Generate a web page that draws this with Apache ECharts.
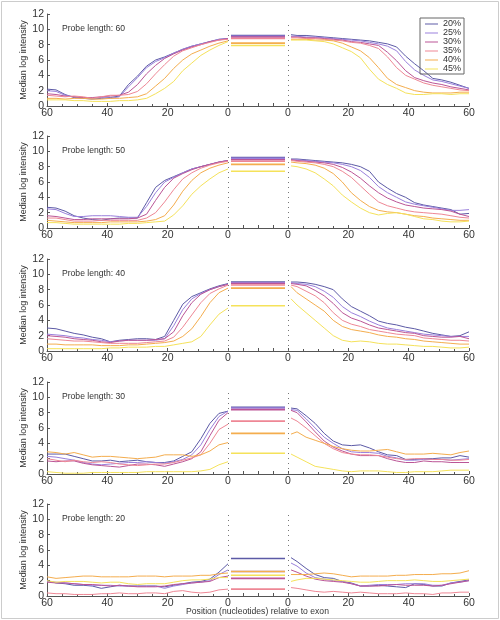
<!DOCTYPE html>
<html>
<head>
<meta charset="utf-8">
<script src="https://cdn.jsdelivr.net/npm/echarts@6/dist/echarts.min.js"></script>
<style>
  html, body { margin: 0; background: #fff; }
  #main { width: 500px; height: 620px; }
</style>
</head>
<body>
<div id="main"></div>
<script>
// GC content groups (one line each)
const pct = ['20%', '25%', '30%', '35%', '40%', '45%'];
const colors = ['#5c5aa6', '#9a80dc', '#bb5596', '#ee8795', '#f4ad4e', '#f5e25a'];
const probeLengths = [60, 50, 40, 30, 20];

// positions (nucleotides) relative to exon
const posLeft = [60, 57, 54, 51, 48, 45, 42, 39, 36, 33, 30, 27, 24, 21, 18, 15, 12, 9, 6, 3, 0];
const posRight = [1, 3, 6, 9, 12, 15, 18, 21, 24, 27, 30, 33, 36, 39, 42, 45, 48, 51, 54, 57, 60];
const exonSpan = [1, 19];
const xTicks = [0, 20, 40, 60];

// probe length 60
const left60 = [
  [2.2,2.1,1.5,1.1,1.0,0.9,1.0,1.1,1.3,2.8,3.9,5.2,6.0,6.4,6.9,7.4,7.8,8.1,8.4,8.7,8.8],
  [2.0,1.9,1.4,1.2,1.0,1.0,1.1,1.0,1.2,2.5,3.7,5.0,5.8,6.3,6.9,7.4,7.8,8.1,8.4,8.7,8.8],
  [1.6,1.5,1.3,1.2,1.1,1.1,1.2,1.3,1.4,1.8,2.8,4.2,5.3,6.2,6.8,7.3,7.7,8.0,8.4,8.6,8.8],
  [1.4,1.3,1.2,1.3,1.2,1.0,1.2,1.4,1.4,1.5,1.9,2.9,4.2,5.4,6.5,7.2,7.6,8.0,8.3,8.6,8.7],
  [1.0,1.0,0.9,1.0,1.0,0.9,0.9,1.0,1.0,1.1,1.2,1.6,2.6,3.6,4.9,6.0,6.8,7.3,7.8,8.2,8.5],
  [0.8,0.8,0.8,0.7,0.7,0.6,0.6,0.6,0.7,0.7,0.8,1.0,1.6,2.3,3.2,4.6,5.6,6.6,7.3,7.9,8.4]
];
const exon60 = [9.2, 9.1, 9.0, 8.8, 8.2, 7.9];
const right60 = [
  [9.3,9.2,9.2,9.1,9.0,8.9,8.8,8.7,8.6,8.5,8.3,8.1,7.7,6.5,5.5,4.6,3.6,3.4,3.1,2.7,2.3],
  [9.1,9.1,9.0,9.0,8.9,8.8,8.7,8.6,8.5,8.3,8.1,7.8,7.2,5.8,4.7,4.0,3.4,3.2,2.9,2.6,2.3],
  [9.0,9.0,8.9,8.9,8.8,8.7,8.6,8.4,8.3,8.1,7.9,7.0,5.9,4.6,3.7,3.3,3.0,2.8,2.5,2.3,2.1],
  [8.9,8.9,8.8,8.8,8.7,8.6,8.5,8.3,8.2,7.9,7.5,6.4,5.0,4.0,3.5,3.0,2.7,2.5,2.3,2.1,2.0],
  [8.7,8.7,8.7,8.6,8.6,8.5,8.2,7.7,7.2,6.3,5.0,3.6,2.8,2.4,2.0,1.8,1.7,1.7,1.7,1.8,1.8],
  [8.6,8.6,8.6,8.5,8.4,8.1,7.6,7.1,6.3,4.8,3.5,2.8,2.3,1.7,1.5,1.5,1.6,1.6,1.5,1.6,1.6]
];

// probe length 50
const left50 = [
  [2.7,2.6,2.2,1.6,1.3,1.1,1.0,1.2,1.3,1.3,1.3,3.3,5.3,6.2,6.7,7.2,7.7,8.0,8.3,8.6,8.8],
  [2.5,2.4,1.9,1.5,1.5,1.6,1.6,1.6,1.5,1.4,1.4,2.8,4.6,6.0,6.6,7.2,7.7,8.0,8.3,8.6,8.8],
  [1.6,1.5,1.3,1.1,1.1,1.2,1.2,1.2,1.2,1.2,1.3,1.8,3.6,5.3,6.5,7.1,7.6,8.0,8.3,8.6,8.8],
  [1.3,1.3,1.1,0.9,0.9,0.9,1.0,1.0,1.0,1.0,1.0,1.3,2.0,3.4,5.0,6.4,7.2,7.8,8.2,8.5,8.7],
  [1.0,0.9,0.8,0.7,0.7,0.7,0.7,0.8,0.8,0.8,0.8,0.9,1.1,1.6,3.0,4.8,6.2,7.2,7.8,8.2,8.5],
  [0.7,0.7,0.6,0.5,0.5,0.5,0.5,0.5,0.5,0.6,0.6,0.7,0.8,0.9,1.7,2.9,4.4,5.5,6.4,7.2,7.7]
];
const exon50 = [9.2, 9.1, 8.9, 8.7, 8.3, 7.4];
const right50 = [
  [9.0,9.0,8.9,8.8,8.7,8.6,8.5,8.3,8.0,7.4,6.0,5.2,4.5,4.0,3.3,3.0,2.8,2.6,2.4,1.8,1.9],
  [8.9,8.9,8.8,8.7,8.6,8.5,8.3,8.0,7.5,6.6,5.4,4.6,4.0,3.4,3.1,2.9,2.7,2.5,2.3,2.3,2.4],
  [8.9,8.8,8.7,8.6,8.5,8.3,7.9,7.3,6.5,5.5,4.6,3.9,3.4,3.0,2.8,2.6,2.5,2.4,2.2,1.8,1.5],
  [8.8,8.7,8.6,8.5,8.3,8.0,7.4,6.6,5.5,4.4,3.4,2.9,2.6,2.3,2.1,2.0,1.9,1.8,1.6,1.4,1.3],
  [8.6,8.5,8.4,8.2,7.8,7.1,6.0,4.6,3.6,2.8,2.3,2.1,2.0,1.8,1.6,1.5,1.3,1.2,1.1,1.0,1.0],
  [8.1,8.0,7.7,7.2,6.4,5.5,4.3,3.4,2.6,2.0,1.7,1.9,2.0,1.8,1.5,1.2,1.1,0.9,0.8,0.8,0.9]
];

// probe length 40
const left40 = [
  [3.0,2.9,2.6,2.3,2.1,1.8,1.6,1.2,1.4,1.5,1.6,1.6,1.5,1.9,4.0,6.1,7.1,7.6,8.1,8.5,8.8],
  [2.2,2.1,2.0,1.8,1.7,1.5,1.4,1.2,1.3,1.4,1.4,1.4,1.4,1.6,3.3,5.4,6.8,7.5,8.0,8.4,8.7],
  [2.0,1.9,1.8,1.6,1.5,1.4,1.2,1.1,1.3,1.4,1.4,1.4,1.5,1.6,2.5,4.6,6.3,7.4,8.0,8.4,8.7],
  [1.6,1.5,1.4,1.3,1.3,1.2,1.1,1.0,1.0,1.0,1.0,1.1,1.2,1.3,1.8,3.1,4.7,6.3,7.5,8.1,8.6],
  [0.9,0.9,0.8,0.8,0.8,0.8,0.7,0.7,0.7,0.8,0.8,0.9,1.0,1.1,1.3,1.9,2.9,4.5,6.3,7.6,8.2],
  [0.3,0.3,0.3,0.3,0.3,0.3,0.3,0.4,0.4,0.5,0.5,0.5,0.6,0.6,0.8,1.0,1.2,1.9,3.4,4.8,5.6]
];
const exon40 = [9.0, 8.9, 8.8, 8.6, 8.2, 5.9];
const right40 = [
  [9.0,9.0,8.9,8.7,8.4,8.0,6.8,5.8,5.2,4.6,3.9,3.6,3.4,3.1,2.9,2.6,2.3,2.1,1.9,2.0,2.5],
  [8.9,8.8,8.7,8.4,7.8,7.0,5.8,5.0,4.5,3.9,3.4,3.0,2.8,2.6,2.4,2.2,2.1,2.0,1.9,1.9,1.9],
  [8.8,8.7,8.5,7.9,7.2,6.2,5.0,4.3,3.9,3.4,3.0,2.8,2.6,2.4,2.3,2.0,1.9,1.8,1.8,1.9,1.6],
  [8.6,8.4,7.8,7.2,6.3,5.0,4.0,3.5,3.2,2.8,2.6,2.4,2.2,2.1,2.0,1.7,1.6,1.5,1.4,1.4,1.3],
  [8.4,7.6,6.8,6.0,5.2,4.0,3.2,2.8,2.6,2.4,2.1,1.9,1.8,1.6,1.5,1.3,1.2,1.1,1.0,0.9,0.9],
  [6.8,6.0,5.0,4.0,3.0,2.0,1.4,1.2,1.3,1.2,1.0,0.9,0.9,0.8,0.7,0.6,0.6,0.5,0.4,0.4,0.5]
];

// probe length 30
const left30 = [
  [2.6,2.6,2.6,2.3,2.0,1.7,1.7,1.8,1.6,1.7,1.8,1.6,1.5,1.5,1.7,2.3,2.9,4.6,6.6,7.9,8.2],
  [2.3,2.2,2.0,1.8,1.5,1.3,1.2,1.3,1.4,1.5,1.5,1.6,1.5,1.4,1.6,1.9,2.5,3.8,5.8,7.5,8.2],
  [1.7,1.6,1.7,1.7,1.4,1.2,1.1,1.0,0.9,1.1,1.3,1.3,1.2,1.0,1.3,1.6,2.0,2.9,5.0,7.0,8.0],
  [2.0,1.8,1.6,1.8,1.6,1.5,1.6,1.5,1.3,1.2,1.1,1.2,1.3,1.3,1.5,1.8,2.1,2.5,4.0,5.8,6.5],
  [2.9,2.8,2.6,2.8,2.5,2.2,2.3,2.3,2.2,2.1,2.0,2.1,2.2,2.5,2.5,2.5,2.3,2.5,3.0,3.8,4.1],
  [0.3,0.2,0.1,0.1,0.1,0.2,0.2,0.2,0.2,0.2,0.2,0.3,0.3,0.3,0.3,0.3,0.3,0.4,0.6,1.2,1.6]
];
const exon30 = [8.7, 8.6, 8.4, 6.9, 5.3, 2.7];
const right30 = [
  [8.6,8.5,7.6,6.6,5.3,4.3,3.8,3.7,3.8,3.4,2.9,2.5,2.4,1.9,1.9,2.0,2.0,2.1,2.1,2.4,2.2],
  [8.4,8.3,7.2,6.0,4.8,4.0,3.3,2.9,2.8,2.8,2.7,2.3,2.1,1.8,1.8,1.9,1.9,1.9,1.8,1.9,2.0],
  [8.3,8.0,6.8,5.5,4.3,3.5,3.0,2.6,2.4,2.4,2.4,2.0,1.7,1.5,1.5,1.7,1.6,1.6,1.5,1.5,1.5],
  [7.3,6.9,6.0,5.0,4.0,3.3,2.8,2.6,2.5,2.5,2.4,2.2,2.0,1.9,2.0,2.0,1.9,1.9,1.8,1.8,1.9],
  [5.2,5.5,4.8,4.4,4.0,3.6,3.3,3.1,3.0,3.0,3.1,3.2,2.9,2.6,2.6,2.6,2.7,2.6,2.5,2.8,3.0],
  [2.6,2.2,1.6,1.0,0.8,0.6,0.4,0.3,0.4,0.4,0.4,0.3,0.2,0.2,0.3,0.3,0.3,0.4,0.5,0.5,0.5]
];

// probe length 20
const left20 = [
  [2.0,1.7,1.6,1.4,1.4,1.3,1.0,1.2,1.4,1.3,1.3,1.3,1.3,1.2,1.4,1.6,1.8,1.9,2.2,3.1,4.2],
  [1.9,1.8,1.7,1.6,1.5,1.4,1.4,1.4,1.3,1.3,1.3,1.3,1.3,1.0,1.3,1.5,1.7,1.8,2.0,2.8,3.4],
  [1.8,1.7,1.7,1.6,1.5,1.5,1.4,1.3,1.4,1.3,1.2,1.2,1.2,1.3,1.5,1.6,1.7,1.8,1.9,2.4,2.6],
  [0.4,0.3,0.3,0.2,0.2,0.2,0.3,0.3,0.4,0.3,0.3,0.4,0.4,0.3,0.6,0.7,0.5,0.4,0.5,0.8,0.9],
  [2.5,2.3,2.4,2.5,2.6,2.6,2.5,2.5,2.5,2.5,2.6,2.6,2.6,2.5,2.6,2.6,2.6,2.7,2.7,2.9,3.0],
  [2.0,1.8,1.9,1.9,1.9,1.8,1.7,1.8,1.8,1.6,1.5,1.6,1.6,1.6,1.8,2.0,2.1,2.1,2.2,2.4,2.4]
];
const exon20 = [4.9, 3.2, 2.3, 0.9, 3.2, 2.7];
const right20 = [
  [5.0,4.5,3.6,2.8,2.4,2.3,1.9,1.7,1.3,1.3,1.4,1.3,1.2,1.1,1.6,1.5,1.3,1.3,1.7,1.9,2.1],
  [4.3,3.9,3.0,2.4,2.2,2.0,1.9,1.6,1.3,1.4,1.5,1.5,1.5,1.6,1.6,1.6,1.4,1.4,1.7,1.8,2.0],
  [3.4,3.1,2.6,2.2,2.0,1.9,1.8,1.6,1.3,1.3,1.3,1.4,1.5,1.4,1.4,1.4,1.3,1.4,1.6,1.8,2.0],
  [1.1,1.0,0.8,0.6,0.5,0.6,0.5,0.4,0.5,0.4,0.3,0.3,0.3,0.4,0.3,0.3,0.2,0.4,0.4,0.5,0.5],
  [2.8,2.8,2.8,2.9,3.0,2.9,2.7,2.5,2.6,2.6,2.6,2.6,2.7,2.7,2.8,2.8,2.8,2.9,2.9,3.0,3.3],
  [1.9,2.1,2.3,2.3,2.2,2.1,2.0,1.9,1.8,1.8,1.9,2.0,2.0,2.0,2.1,2.0,1.9,1.9,2.0,2.1,2.2]
];

const panels = [
  { left: left60, exon: exon60, right: right60 },
  { left: left50, exon: exon50, right: right50 },
  { left: left40, exon: exon40, right: right40 },
  { left: left30, exon: exon30, right: right30 },
  { left: left20, exon: exon20, right: right20 }
];

const panelTops = [14, 136, 259, 382, 504];
const panelH = 92;
const font = 'Liberation Sans, Arial, Helvetica, sans-serif';
const axisColor = '#555';
const textColor = '#333';

const grids = [], xAxes = [], yAxes = [], series = [], titles = [];

function xAxisBase(gi, opts) {
  return Object.assign({
    gridIndex: gi,
    type: 'value',
    min: 0,
    max: 60,
    interval: 20,
    axisLine: { show: true, onZero: false, lineStyle: { color: axisColor, width: 1 } },
    axisTick: { show: true, inside: true, length: 3, lineStyle: { color: axisColor } },
    minorTick: { show: true, splitNumber: 4, length: 2, lineStyle: { color: axisColor } },
    axisLabel: { show: true, color: textColor, fontSize: 10.5, fontFamily: font, margin: 2,
      customValues: xTicks },
    splitLine: { show: false }
  }, opts);
}

function yAxisBase(gi, visible) {
  return {
    gridIndex: gi,
    type: 'value',
    position: 'left',
    min: 0,
    max: 12,
    interval: 2,
    show: visible,
    name: visible ? 'Median log intensity' : '',
    nameLocation: 'middle',
    nameGap: 16,
    nameTextStyle: { color: textColor, fontSize: 9, fontFamily: font },
    axisLine: { show: true, onZero: false, lineStyle: { color: axisColor, width: 1 } },
    axisTick: { show: true, inside: true, length: 3, lineStyle: { color: axisColor } },
    axisLabel: { color: textColor, fontSize: 10.5, fontFamily: font, margin: 3 },
    splitLine: { show: false }
  };
}

const dotted = {
  silent: true,
  symbol: 'none',
  label: { show: false },
  lineStyle: { color: '#777', type: [1, 4], width: 1 },
  data: [[{ coord: [0, 0] }, { coord: [0, 10.6] }]]
};

panels.forEach((p, i) => {
  const top = panelTops[i];
  const g = i * 3;
  grids.push(
    { left: 47, top: top, width: 181, height: panelH },
    { left: 228, top: top, width: 60, height: panelH },
    { left: 288, top: top, width: 181, height: panelH }
  );
  xAxes.push(
    xAxisBase(g, { inverse: true }),
    xAxisBase(g + 1, { max: 20, interval: 5, minorTick: { show: false }, axisLabel: { show: false } }),
    xAxisBase(g + 2, {})
  );
  yAxes.push(yAxisBase(g, true), yAxisBase(g + 1, false), yAxisBase(g + 2, false));

  titles.push({
    text: 'Probe length: ' + probeLengths[i],
    left: 62,
    top: top + 10,
    padding: 0,
    textStyle: { fontSize: 8.6, fontWeight: 'normal', color: textColor, fontFamily: font }
  });

  pct.forEach((name, k) => {
    const common = {
      name: name,
      type: 'line',
      symbol: 'none',
      smooth: false,
      color: colors[k],
      lineStyle: { width: 1, color: colors[k] },
      emphasis: { disabled: true },
      animation: false
    };
    series.push(Object.assign({}, common, {
      xAxisIndex: g, yAxisIndex: g,
      data: posLeft.map((x, j) => [x, p.left[k][j]]),
      markLine: k === 0 ? dotted : undefined
    }));
    series.push(Object.assign({}, common, {
      xAxisIndex: g + 1, yAxisIndex: g + 1,
      lineStyle: { width: 1.6, color: colors[k] },
      data: exonSpan.map(x => [x, p.exon[k]])
    }));
    series.push(Object.assign({}, common, {
      xAxisIndex: g + 2, yAxisIndex: g + 2,
      data: posRight.map((x, j) => [x, p.right[k][j]]),
      markLine: k === 0 ? dotted : undefined
    }));
  });
});

const chart = echarts.init(document.getElementById('main'), null, { renderer: 'canvas' });
chart.setOption({
  backgroundColor: '#fff',
  animation: false,
  title: titles,
  legend: {
    data: pct,
    orient: 'vertical',
    left: 420,
    top: 18,
    padding: [1.5, 3, 0.5, 5],
    borderColor: '#666',
    borderWidth: 1,
    itemGap: 0,
    itemWidth: 13,
    itemHeight: 1,
    icon: 'rect',
    textStyle: { color: textColor, fontSize: 9, fontFamily: font, lineHeight: 7.4, padding: 0 },
    selectedMode: false
  },
  grid: grids,
  xAxis: xAxes,
  yAxis: yAxes,
  series: series,
  graphic: [
    { type: 'rect', shape: { x: 1.5, y: 1.5, width: 497, height: 617 },
      style: { fill: 'none', stroke: '#ccc', lineWidth: 1 }, silent: true },
    { type: 'text', x: 257.5, y: 612,
      style: { text: 'Position (nucleotides) relative to exon', fill: textColor,
        font: '8.6px ' + font, textAlign: 'center', textVerticalAlign: 'middle' } }
  ]
});
</script>
</body>
</html>
